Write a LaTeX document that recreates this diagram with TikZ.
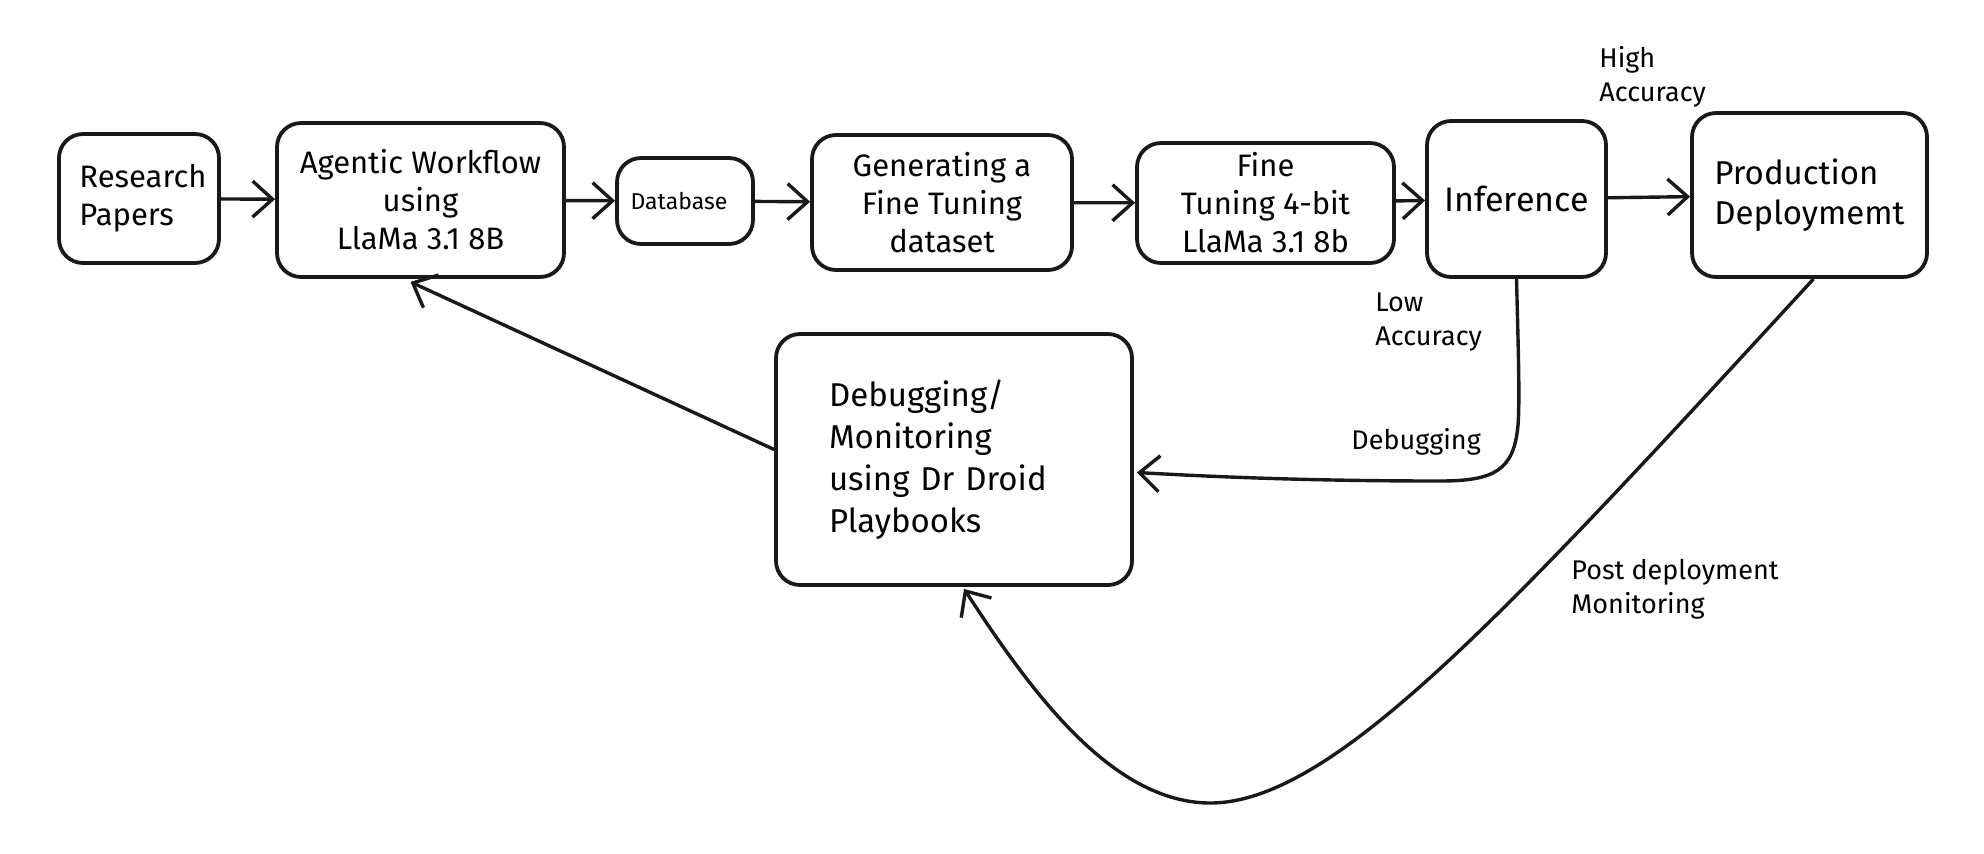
\documentclass[tikz,border=0pt]{standalone}
\usepackage{fontspec}
\setmainfont{Fira Sans}
\usetikzlibrary{arrows.meta,calc}
\begin{document}
\begin{tikzpicture}[x=0.5pt,y=-0.5pt,
  box/.style={draw=black!90,line width=1.9pt,rounded corners=12pt,inner sep=0pt,align=left},
  txt/.style={font=\fontsize{15.5}{19}\selectfont},
  lbl/.style={inner sep=0pt,align=left,anchor=west,font=\fontsize{13.5}{17}\selectfont},
  arr/.style={draw=black!90,line width=1.7pt,-{Straight Barb[length=10pt,width=18pt,line width=1.7pt]}}]
\useasboundingbox (0,0) rectangle (1984,853);
\node[box,txt,minimum width=80pt,minimum height=64.5pt] (rp) at (139,198.5) {\hspace*{4pt}Research\\\hspace*{4pt}Papers};
\node[box,txt,minimum width=143.5pt,minimum height=77pt,align=center] (aw) at (420.5,200) {Agentic Workflow\\using\\LlaMa 3.1 8B};
\node[box,font=\fontsize{11.5}{14}\selectfont,minimum width=68pt,minimum height=43pt] (db) at (685,201) {Database\hspace*{6pt}};
\node[box,txt,minimum width=130pt,minimum height=67.5pt,align=center] (gen) at (942,202.5) {Generating a\\Fine Tuning\\dataset};
\node[box,txt,minimum width=128.5pt,minimum height=60pt,align=center] (ft) at (1265.5,203) {Fine\\Tuning 4-bit\\LlaMa 3.1 8b};
\node[box,font=\fontsize{17}{20}\selectfont,minimum width=89.5pt,minimum height=78pt] (inf) at (1516.5,199) {Inference};
\node[box,font=\fontsize{16.5}{20}\selectfont,minimum width=117.5pt,minimum height=82pt] (prod) at (1809.5,195) {Production\\Deploymemt};
\node[box,font=\fontsize{16.5}{21}\selectfont,text width=125pt,minimum width=178pt,minimum height=125.5pt] (dbg) at (954,459.5) {Debugging/\\Monitoring\\using Dr Droid\\Playbooks};
\draw[arr] (rp) -- (aw);
\draw[arr] (aw) -- (db);
\draw[arr] (db) -- (gen);
\draw[arr] (gen) -- (ft);
\draw[arr] (ft) -- (inf);
\draw[arr] (inf) -- (prod);
\draw[arr] ($(dbg.west)+(0,-10)$) -- ($(aw.south)+(-10,3)$);
\draw[arr] (inf.south) .. controls (1518,340) and (1520,400) .. (1518,425)
  .. controls (1514,470) and (1495,481) .. (1440,481)
  .. controls (1300,481) and (1200,476) .. ($(dbg.east)+(3,13)$);
\draw[arr] ($(prod.south)+(4,0)$) .. controls (1500,620) and (1330,805) .. (1208,803)
  .. controls (1110,801) and (1030,690) .. ($(dbg.south)+(10,2)$);
\node[lbl] (hi) at (1599,76.5) {High\\Accuracy};
\node[lbl] (lo) at (1375,322.5) {Low\\Accuracy};
\node[lbl] (de) at (1351,442) {Debugging};
\node[lbl] (po) at (1571,589.5) {Post deployment\\Monitoring};
\end{tikzpicture}
\end{document}
